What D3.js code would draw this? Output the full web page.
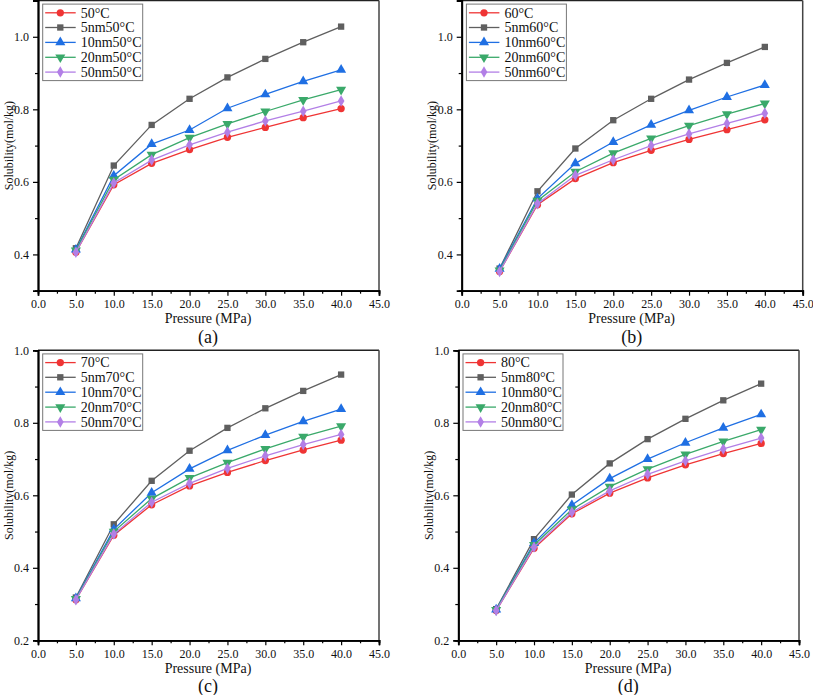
<!DOCTYPE html>
<html><head><meta charset="utf-8">
<script src="https://cdn.jsdelivr.net/npm/d3@7/dist/d3.min.js"></script>
<style>body{margin:0;background:#fff}svg{display:block}</style>
</head><body>
<svg id="c" width="813" height="695" font-family="Liberation Serif, Times New Roman, DejaVu Serif, serif"></svg>
<script>
const FONT = "Liberation Serif, Times New Roman, DejaVu Serif, serif";
const pressures = [5, 10, 15, 20, 25, 30, 35, 40];
const xTicks = [0, 5, 10, 15, 20, 25, 30, 35, 40, 45];
const seriesSizes = ["", "5nm", "10nm", "20nm", "50nm"];
const temperatures = ["50", "60", "70", "80"];
const panelLabels = ["(a)", "(b)", "(c)", "(d)"];

// panel (a) 50°C
const a_bulk = [0.406, 0.592, 0.651, 0.689, 0.723, 0.750, 0.777, 0.802];
const a_5nm  = [0.417, 0.645, 0.757, 0.829, 0.888, 0.939, 0.985, 1.028];
const a_10nm = [0.413, 0.617, 0.704, 0.743, 0.803, 0.841, 0.877, 0.909];
const a_20nm = [0.411, 0.606, 0.675, 0.722, 0.760, 0.794, 0.826, 0.854];
const a_50nm = [0.406, 0.597, 0.660, 0.702, 0.737, 0.768, 0.795, 0.823];
// panel (b) 60°C
const b_bulk = [0.353, 0.537, 0.609, 0.653, 0.687, 0.717, 0.744, 0.771];
const b_5nm  = [0.361, 0.574, 0.692, 0.770, 0.829, 0.882, 0.928, 0.972];
const b_10nm = [0.360, 0.554, 0.651, 0.710, 0.757, 0.797, 0.834, 0.867];
const b_20nm = [0.356, 0.548, 0.628, 0.679, 0.720, 0.755, 0.787, 0.816];
const b_50nm = [0.353, 0.540, 0.618, 0.661, 0.700, 0.732, 0.761, 0.789];
// panel (c) 70°C
const c_bulk = [0.312, 0.490, 0.574, 0.626, 0.663, 0.696, 0.725, 0.752];
const c_5nm  = [0.318, 0.520, 0.640, 0.723, 0.786, 0.840, 0.888, 0.933];
const c_10nm = [0.316, 0.506, 0.607, 0.673, 0.724, 0.766, 0.804, 0.838];
const c_20nm = [0.314, 0.500, 0.591, 0.648, 0.690, 0.728, 0.762, 0.791];
const c_50nm = [0.312, 0.493, 0.581, 0.633, 0.674, 0.709, 0.740, 0.768];
// panel (d) 80°C
const d_bulk = [0.282, 0.454, 0.549, 0.606, 0.648, 0.684, 0.715, 0.743];
const d_5nm  = [0.286, 0.479, 0.602, 0.688, 0.755, 0.811, 0.862, 0.908];
const d_10nm = [0.285, 0.468, 0.573, 0.646, 0.700, 0.745, 0.786, 0.823];
const d_20nm = [0.284, 0.463, 0.561, 0.624, 0.672, 0.713, 0.749, 0.781];
const d_50nm = [0.282, 0.457, 0.553, 0.612, 0.658, 0.695, 0.728, 0.758];

const yTicksAB = [0.4, 0.6, 0.8, 1.0];
const yTicksCD = [0.2, 0.4, 0.6, 0.8, 1.0];

const colors = ["#ef3434", "#5f5f5f", "#1f6fe3", "#3aa96a", "#b27fe6"];
const symbols = [d3.symbolCircle, d3.symbolSquare, d3.symbolTriangle, d3.symbolTriangle, d3.symbolDiamond];
const symSizes = [42, 40, 44, 44, 38];
const symRot = [0, 0, 0, 180, 0];

const panels = [
  {data:[a_bulk,a_5nm,a_10nm,a_20nm,a_50nm], L:38, R:379, T:0.5, B:290.7, yd:[0.3,1.1], yt:yTicksAB},
  {data:[b_bulk,b_5nm,b_10nm,b_20nm,b_50nm], L:461.7, R:802.7, T:0.5, B:290.7, yd:[0.3,1.1], yt:yTicksAB},
  {data:[c_bulk,c_5nm,c_10nm,c_20nm,c_50nm], L:38, R:379, T:350.3, B:640.3, yd:[0.2,1.0], yt:yTicksCD},
  {data:[d_bulk,d_5nm,d_10nm,d_20nm,d_50nm], L:458.3, R:799, T:350.3, B:640.3, yd:[0.2,1.0], yt:yTicksCD}
];

const svg = d3.select("#c");

panels.forEach((p, pi) => {
  const x = d3.scaleLinear().domain([0, 45]).range([p.L, p.R]);
  const y = d3.scaleLinear().domain(p.yd).range([p.B, p.T]);
  const g = svg.append("g");

  g.append("line").attr("x1", p.L).attr("x2", p.R).attr("y1", p.T).attr("y2", p.T).attr("stroke", "#222").attr("stroke-width", 1.5);
  g.append("line").attr("x1", p.R).attr("x2", p.R).attr("y1", p.T).attr("y2", p.B).attr("stroke", "#444").attr("stroke-width", 1.5);

  const xMinor = xTicks.slice(0, -1).map(v => v + 2.5);
  const xa = g.append("g").attr("transform", `translate(0,${p.B})`);
  xa.call(d3.axisBottom(x).tickValues(xMinor).tickSize(3).tickFormat(""));
  xa.append("g").call(d3.axisBottom(x).tickValues(xTicks).tickSize(5).tickPadding(4).tickFormat(d3.format(".1f")));
  const ya = g.append("g").attr("transform", `translate(${p.L},0)`);
  const yMinor = p.yt.map(v => +(v + 0.1).toFixed(2)).filter(v => v < p.yd[1] - 1e-6);
  ya.call(d3.axisLeft(y).tickValues(yMinor).tickSize(3).tickFormat(""));
  ya.append("g").call(d3.axisLeft(y).tickValues(p.yt).tickSize(5).tickPadding(4).tickFormat(d3.format(".1f")));

  g.selectAll("g").attr("font-family", FONT);
  g.selectAll(".domain").attr("stroke", "#000").attr("stroke-width", 1.8);
  g.selectAll(".tick line").attr("stroke", "#000").attr("stroke-width", 1.2);
  g.selectAll(".tick text").attr("font-size", 12).attr("fill", "#111").attr("font-family", FONT);

  const line = d3.line().x((d, i) => x(pressures[i])).y(d => y(d));
  p.data.forEach((vals, si) => {
    g.append("path").datum(vals).attr("d", line).attr("fill", "none").attr("stroke", colors[si]).attr("stroke-width", 1.3);
    g.selectAll(null).data(vals).enter().append("path")
      .attr("d", d3.symbol().type(symbols[si]).size(symSizes[si]))
      .attr("transform", (d, i) => `translate(${x(pressures[i])},${y(d)}) rotate(${symRot[si]})`)
      .attr("fill", colors[si]);
  });

  const lx = p.L + 4.7, ly = p.T + 3.6;
  g.append("rect").attr("x", lx).attr("y", ly).attr("width", 100).attr("height", 76.5)
    .attr("fill", "#fff").attr("stroke", "#777").attr("stroke-width", 1);
  const offs = [8.7, 23.4, 38.3, 53.2, 68];
  seriesSizes.forEach((s, si) => {
    const yy = ly + offs[si];
    g.append("line").attr("x1", lx + 2.5).attr("x2", lx + 33).attr("y1", yy).attr("y2", yy).attr("stroke", colors[si]).attr("stroke-width", 1.3);
    g.append("path").attr("d", d3.symbol().type(symbols[si]).size(symSizes[si]))
      .attr("transform", `translate(${lx + 17.6},${yy}) rotate(${symRot[si]})`).attr("fill", colors[si]);
    g.append("text").attr("x", lx + 38).attr("y", yy + 4.8).attr("font-size", 14).attr("fill", "#111").attr("font-family", FONT)
      .text(s + temperatures[pi] + "°C");
  });

  const cx = (p.L + p.R) / 2 - 0.5;
  g.append("text").attr("x", cx).attr("y", p.B + 32.5).attr("text-anchor", "middle").attr("font-size", 14).attr("fill", "#111").attr("font-family", FONT).text("Pressure (MPa)");
  g.append("text").attr("transform", `translate(${p.L - 25.5},${(p.T + p.B) / 2}) rotate(-90)`).attr("text-anchor", "middle").attr("font-size", 12).attr("fill", "#111").attr("font-family", FONT).text("Solubility(mol/kg)");
  g.append("text").attr("x", cx).attr("y", p.B + 52).attr("text-anchor", "middle").attr("font-size", 18).attr("fill", "#111").attr("font-family", FONT).text(panelLabels[pi]);
});
</script>
</body></html>
